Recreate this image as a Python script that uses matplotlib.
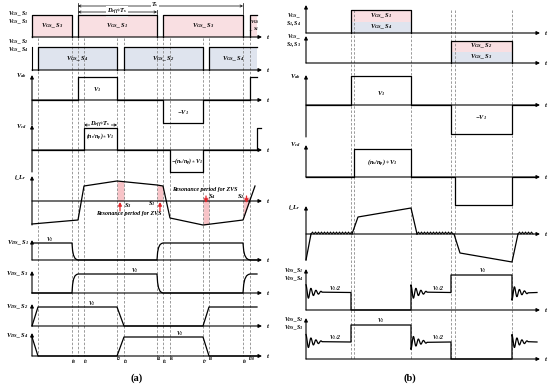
"""
Switching waveforms of the converter: (a) phase-shift operation, (b) burst operation.
"""

import numpy as np
import matplotlib.pyplot as plt

plt.rcParams['font.family'] = 'Liberation Serif'
plt.rcParams['font.style'] = 'italic'
plt.rcParams['font.weight'] = 'bold'
plt.rcParams['mathtext.fontset'] = 'custom'
plt.rcParams['mathtext.it'] = 'Liberation Serif:italic:bold'
plt.rcParams['mathtext.rm'] = 'Liberation Serif:bold'
plt.rcParams['mathtext.bf'] = 'Liberation Serif:bold'

PINK = '#f9dfe2'
BLUE = '#dfe4ee'
RED = '#e3262c'
SHADE = '#f6b9be'
DASH = '#8a8a8a'

# ---------------- panel (a) data, time counted from the vertical axis ----------------
a_marks = [6, 40, 46, 52, 85, 92, 125, 131, 138, 171, 177, 211, 218]
a_mark_names = ['', r'$t_0$', '', r'$t_1$', r'$t_2$', r'$t_3$', r'$t_4$', r'$t_5$',
                r'$t_6$', r'$t_7$', r'$t_8$', r'$t_9$', r'$t_{10}$']
a_gs13_on = [(0, 40), (46, 125), (131, 211), (218, 225)]
a_gs13_names = ['S_3', 'S_1', 'S_3', 'S_1']
a_gs24_on = [(6, 85), (92, 171), (177, 225)]
a_gs24_names = ['S_4', 'S_2', 'S_4']
a_vab_t = [0, 46, 46, 85, 85, 131, 131, 171, 171, 218, 218, 225]
a_vab_v = [0, 0, 1, 1, 0, 0, -1, -1, 0, 0, 1, 1]
a_vcd_t = [0, 52, 52, 85, 85, 138, 138, 171, 171, 225, 225, 229]
a_vcd_v = [0, 0, 1, 1, 0, 0, -1, -1, 0, 0, 1, 1]
a_ilr_t = [0, 46, 52, 85, 125, 131, 138, 171, 211, 223]
a_ilr_v = [-23, -19, 15, 20, 16, 15, -17, -24, -19, 15]
# resonance windows: start, end, direction, switch, arrow time
a_zvs = [(85, 92, 1, 'S_3', 88), (125, 131, 1, 'S_1', 128),
         (171, 177, -1, 'S_4', 174), (211, 218, -1, 'S_2', 214.5)]
# drain-source voltages: start level, then (edge start, edge end, new level)
a_vds1 = (1, [(40, 46, 0), (125, 131, 1), (211, 218, 0)])
a_vds3 = (0, [(40, 46, 1), (125, 131, 0), (211, 218, 1)])
a_vds2 = (0, [(0, 6, 1), (85, 92, 0), (171, 177, 1)])
a_vds4 = (1, [(0, 6, 0), (85, 92, 1), (171, 177, 0)])
# shape of a resonant edge (fraction of time, fraction of swing)
edge_ft = [0, 0.1, 0.25, 0.5, 0.75, 1]
edge_fv = [0, 0.45, 0.72, 0.9, 0.97, 1]

# ---------------- panel (b) data ----------------
b_marks = [45, 48, 105, 145, 149, 206]
b_gs14_on = (45, 105)
b_gs23_on = (145, 206)
b_vab_t = [0, 45, 45, 105, 105, 145, 145, 206, 206, 230]
b_vab_v = [0, 0, 1, 1, 0, 0, -1, -1, 0, 0]
b_vcd_t = [0, 48, 48, 105, 105, 149, 149, 206, 206, 230]
b_vcd_v = [0, 0, 1, 1, 0, 0, -1, -1, 0, 0]
b_ilr_ramps = [([0, 5], [-26, 0]),
               ([46, 52, 105, 111], [0, 17, 26, 0]),
               ([148, 154, 206, 212], [0, -19, -28, 0])]
b_ilr_ring = [(5, 46), (111, 148), (212, 228)]
b_vds14_t = [0, 45, 105, 145, 206]
b_vds14_lvl = [0.5, 0, 0.5, 1, 0.5]
b_vds23_t = [0, 45, 105, 145, 206]
b_vds23_lvl = [0.5, 1, 0.5, 0, 0.5]


def axis_h(ax, x0, y, tend):
    ax.annotate('', xy=(x0 + tend, y), xytext=(x0, y),
                arrowprops=dict(arrowstyle='-|>', lw=0.8, color='k', mutation_scale=5,
                                shrinkA=0, shrinkB=0))
    ax.text(x0 + tend + 4, y, r'$t$', fontsize=5, va='center', ha='left')


def axis_v(ax, x0, top, bot, arrow=True):
    if arrow:
        ax.annotate('', xy=(x0, top), xytext=(x0, bot),
                    arrowprops=dict(arrowstyle='-|>', lw=0.8, color='k', mutation_scale=5,
                                    shrinkA=0, shrinkB=0))
    else:
        ax.plot([x0, x0], [top, bot], color='k', lw=0.8)


def edges_curve(start, edges, tend, ft, fv):
    t, v = [0], [start]
    cur = start
    for ta, tb, new in edges:
        if ta > 0:
            t.append(ta)
            v.append(cur)
        for a, b in zip(ft, fv):
            t.append(ta + a * (tb - ta))
            v.append(cur + b * (new - cur))
        cur = new
    t.append(tend)
    v.append(cur)
    return np.array(t, float), np.array(v, float)


def ring_curve(times, levels, tend, ring_len=16, amp=0.22):
    t, v = [], []
    prev = 0
    for i, (ts, lv) in enumerate(zip(times, levels)):
        te = times[i + 1] if i + 1 < len(times) else tend
        if lv == 0.5:
            sign = 1 if lv >= prev else -1
            tt = np.linspace(0, ring_len, 60)
            wave = lv + sign * amp * np.exp(-tt / 8) * np.cos(2 * np.pi * tt / 5)
            t += list(ts + tt)
            v += list(wave)
            t.append(te)
            v.append(lv)
        else:
            t += [ts, te]
            v += [lv, lv]
        prev = lv
    return np.array(t), np.array(v)


def zigzag(t0, t1, period=3.0, amp=2.0):
    tt = np.arange(t0, t1, period / 2)
    vv = np.where(np.arange(len(tt)) % 2 == 0, 0, amp)
    return tt, vv


fig = plt.figure(figsize=(5.5, 3.88), dpi=100)
ax = fig.add_axes([0, 0, 1, 1])
ax.set_xlim(0, 550)
ax.set_ylim(388, 0)
ax.axis('off')

LW = 0.9
FS = 4.6
FSL = 4.2

# ======================= panel (a) =======================
x0 = 32
tend = 230

# dashed switching instants
for i, m in enumerate(a_marks):
    ax.plot([x0 + m, x0 + m], [38, 356], color=DASH, lw=0.6, ls=(0, (3, 2)), zorder=3)
    if a_mark_names[i]:
        ax.text(x0 + m + 2, 362 if i % 2 else 359, a_mark_names[i], fontsize=4.2,
                ha='center', va='center')

# gate signals S1/S3
base, amp = 37, 22
for (s, e), nm in zip(a_gs13_on, a_gs13_names):
    ax.fill_between([x0 + s, x0 + e], base, base - amp, color=PINK, lw=0, zorder=1)
    xs = [x0 + s, x0 + s, x0 + e, x0 + e] if e < 220 else [x0 + s, x0 + s, x0 + e]
    ys = [base, base - amp, base - amp, base] if e < 220 else [base, base - amp, base - amp]
    ax.plot(xs, ys, color='k', lw=LW, zorder=4)
    if e - s > 20:
        ax.text(x0 + (s + e) / 2, base - amp / 2, r'$V_{GS}$_ $%s$' % nm, fontsize=FS,
                ha='center', va='center', zorder=5)
    else:
        ax.text(x0 + (s + e) / 2 + 1, base - amp / 2, r'$V_{GS}$' + '\n' + r'_ $%s$' % nm,
                fontsize=3.6, ha='center', va='center', zorder=5, linespacing=0.9)
axis_h(ax, x0, base, tend)
ax.text(29, 14, r'$V_{GS}$_ $S_1$', fontsize=FSL, ha='right', va='center')
ax.text(29, 22, r'$V_{GS}$_ $S_3$', fontsize=FSL, ha='right', va='center')

# period annotations
for t in (46, 211):
    ax.plot([x0 + t, x0 + t], [3, 14], color='k', lw=0.5)
ax.plot([x0 + 125, x0 + 125], [9, 14], color='k', lw=0.5)
ax.annotate('', xy=(x0 + 46, 6), xytext=(x0 + 211, 6),
            arrowprops=dict(arrowstyle='<->', lw=0.5, mutation_scale=4, shrinkA=0, shrinkB=0))
ax.annotate('', xy=(x0 + 46, 12), xytext=(x0 + 125, 12),
            arrowprops=dict(arrowstyle='<->', lw=0.5, mutation_scale=4, shrinkA=0, shrinkB=0))
ax.text(x0 + 123, 5, r'$T_s$', fontsize=FS, ha='center', va='center',
        bbox=dict(fc='white', ec='none', pad=0.4))
ax.text(x0 + 85, 11.5, r'$D_{eff}$$\ast$$T_s$', fontsize=FS, ha='center', va='center',
        bbox=dict(fc='white', ec='none', pad=0.3))

# gate signals S2/S4
base, amp = 70, 23
axis_v(ax, x0, base - amp, base, arrow=False)
for (s, e), nm in zip(a_gs24_on, a_gs24_names):
    ax.fill_between([x0 + s, x0 + e], base, base - amp, color=BLUE, lw=0, zorder=1)
    xs = [x0 + s, x0 + s, x0 + e, x0 + e] if e < 220 else [x0 + s, x0 + s, x0 + e]
    ys = [base, base - amp, base - amp, base] if e < 220 else [base, base - amp, base - amp]
    ax.plot(xs, ys, color='k', lw=LW, zorder=4)
    ax.text(x0 + (s + e) / 2, base - amp / 2, r'$V_{GS}$_ $%s$' % nm, fontsize=FS,
            ha='center', va='center', zorder=5)
axis_h(ax, x0, base, tend)
ax.text(29, 42, r'$V_{GS}$_ $S_2$', fontsize=FSL, ha='right', va='center')
ax.text(29, 50, r'$V_{GS}$_ $S_4$', fontsize=FSL, ha='right', va='center')

# V_ab
base, amp = 100, 23
axis_v(ax, x0, 75, base + amp + 2)
ax.plot(x0 + np.array(a_vab_t), base - amp * np.array(a_vab_v), color='k', lw=LW, zorder=4)
axis_h(ax, x0, base, tend)
ax.text(27, 76, r'$V_{ab}$', fontsize=FS, ha='right', va='center')
ax.text(x0 + 65, 90, r'$V_1$', fontsize=FS, ha='center', va='center')
ax.text(x0 + 151, 113, r'$\mathrm{-}V_1$', fontsize=FS, ha='center', va='center')

# V_cd
base, amp = 150, 22
axis_v(ax, x0, 125, base + amp)
ax.plot(x0 + np.array(a_vcd_t), base - amp * np.array(a_vcd_v), color='k', lw=LW, zorder=4)
axis_h(ax, x0, base, tend)
ax.text(27, 127, r'$V_{cd}$', fontsize=FS, ha='right', va='center')
ax.text(x0 + 68.5, 137, r'$(n_s/n_p)\ast V_1$', fontsize=4.2, ha='center', va='center')
ax.text(x0 + 154.5, 162, r'$\mathrm{-}(n_s/n_p)\ast V_1$', fontsize=4.2, ha='center', va='center')
ax.annotate('', xy=(x0 + 52, 125), xytext=(x0 + 85, 125),
            arrowprops=dict(arrowstyle='<->', lw=0.5, mutation_scale=4, shrinkA=0, shrinkB=0))
ax.text(x0 + 68.5, 124.5, r'$D_{eff}$$\ast$$T_s$', fontsize=FS, ha='center', va='center',
        bbox=dict(fc='white', ec='none', pad=0.2))

# i_Lr
base = 201
axis_v(ax, x0, 176, base + 24)
ax.plot(x0 + np.array(a_ilr_t), base - np.array(a_ilr_v), color='k', lw=LW, zorder=4)
axis_h(ax, x0, base, tend)
ax.text(27, 178, r'$i\_L_r$', fontsize=FS, ha='right', va='center')
for s, e, d, nm, ta in a_zvs:
    ts = np.linspace(s, e, 20)
    cur = np.interp(ts, a_ilr_t, a_ilr_v)
    if d > 0:
        ax.fill_between(x0 + ts, base - cur, base, color=SHADE, alpha=0.85, lw=0, zorder=2)
        ax.annotate('', xy=(x0 + ta, base + 1), xytext=(x0 + ta, base + 10),
                    arrowprops=dict(arrowstyle='-|>', lw=0.9, color=RED, mutation_scale=5,
                                    shrinkA=0, shrinkB=0), zorder=6)
    else:
        ax.fill_between(x0 + ts, base - 4, base - cur, color=SHADE, alpha=0.85, lw=0, zorder=2)
        ax.annotate('', xy=(x0 + ta, base + 2), xytext=(x0 + ta, base - 5),
                    arrowprops=dict(arrowstyle='-|>', lw=0.9, color=RED, mutation_scale=5,
                                    shrinkA=0, shrinkB=0), zorder=6)
ax.text(x0 + 96, 206, r'$S_3$', fontsize=FS, ha='center', va='center')
ax.text(x0 + 120, 204, r'$S_1$', fontsize=FS, ha='center', va='center')
ax.text(x0 + 180, 197, r'$S_4$', fontsize=FS, ha='center', va='center')
ax.text(x0 + 209, 197, r'$S_2$', fontsize=FS, ha='center', va='center')
ax.text(x0 + 173, 190, 'Resonance period for ZVS', fontsize=4.3, ha='center', va='center')
ax.text(x0 + 97, 214, 'Resonance period for ZVS', fontsize=4.3, ha='center', va='center')

# drain-source voltages
a_vds_rows = [(a_vds1, 260, 17, 240, r'$V_{DS}$_ $S_1$', 18, 'curve'),
              (a_vds3, 293, 19, 271, r'$V_{DS}$_ $S_3$', 103, 'curve'),
              (a_vds2, 326, 19, 304, r'$V_{DS}$_ $S_2$', 60, 'line'),
              (a_vds4, 356, 19, 333, r'$V_{DS}$_ $S_4$', 148, 'line')]
for (start, edges), base, amp, top, lab, tlab, kind in a_vds_rows:
    if kind == 'curve':
        t, v = edges_curve(start, edges, 225, edge_ft, edge_fv)
    else:
        t, v = edges_curve(start, edges, 225, [0, 1], [0, 1])
    axis_v(ax, x0, top, base)
    ax.plot(x0 + t, base - amp * v, color='k', lw=LW, zorder=4)
    axis_h(ax, x0, base, tend)
    ax.text(29, top + 3, lab, fontsize=FS, ha='right', va='center')
    ax.text(x0 + tlab, base - amp - 3, r'$V_1$', fontsize=4.2, ha='center', va='center')

ax.text(137, 378, '(a)', fontsize=7.5, style='normal', weight='bold', ha='center', va='center')

# ======================= panel (b) =======================
x0 = 306
tend = 234

for m in b_marks:
    ax.plot([x0 + m, x0 + m], [10, 359], color=DASH, lw=0.6, ls=(0, (3, 2)), zorder=3)

# gate signals, split pink/blue pulse
for (s, e), base, amp, names, ly in [(b_gs14_on, 33, 23, ('S_1', 'S_4'), (16, 24)),
                                     (b_gs23_on, 63, 22, ('S_2', 'S_3'), (37, 45))]:
    axis_v(ax, x0, base - 28 if base == 33 else base - 27, base)
    ax.fill_between([x0 + s, x0 + e], base - amp / 2, base - amp, color=PINK, lw=0, zorder=1)
    ax.fill_between([x0 + s, x0 + e], base, base - amp / 2, color=BLUE, lw=0, zorder=1)
    ax.plot([x0 + s, x0 + s, x0 + e, x0 + e], [base, base - amp, base - amp, base],
            color='k', lw=LW, zorder=4)
    ax.text(x0 + (s + e) / 2, base - amp * 0.77, r'$V_{GS}$_ $%s$' % names[0], fontsize=FS,
            ha='center', va='center', zorder=5)
    ax.text(x0 + (s + e) / 2, base - amp * 0.27, r'$V_{GS}$_ $%s$' % names[1], fontsize=FS,
            ha='center', va='center', zorder=5)
    axis_h(ax, x0, base, tend)
    ax.text(301, ly[0], r'$V_{GS}$_', fontsize=FSL, ha='right', va='center')
    ax.text(301, ly[1], r'$%s,%s$' % names, fontsize=FSL, ha='right', va='center')

# V_ab
base, amp = 105, 29
axis_v(ax, x0, 75, base + amp + 3)
ax.plot(x0 + np.array(b_vab_t), base - amp * np.array(b_vab_v), color='k', lw=LW, zorder=4)
axis_h(ax, x0, base, tend)
ax.text(301, 77, r'$V_{ab}$', fontsize=FS, ha='right', va='center')
ax.text(x0 + 75, 94, r'$V_1$', fontsize=FS, ha='center', va='center')
ax.text(x0 + 175, 118, r'$\mathrm{-}V_1$', fontsize=FS, ha='center', va='center')

# V_cd
base, amp = 177, 28
axis_v(ax, x0, 145, base)
ax.plot(x0 + np.array(b_vcd_t), base - amp * np.array(b_vcd_v), color='k', lw=LW, zorder=4)
axis_h(ax, x0, base, tend)
ax.text(301, 145, r'$V_{cd}$', fontsize=FS, ha='right', va='center')
ax.text(x0 + 76.5, 163, r'$(n_s/n_p)\ast V_1$', fontsize=4.6, ha='center', va='center')

# i_Lr with ringing between the bursts
base = 234
axis_v(ax, x0, 206, base + 26)
for t, v in b_ilr_ramps:
    ax.plot(x0 + np.array(t), base - np.array(v), color='k', lw=LW, zorder=4)
for s, e in b_ilr_ring:
    t, v = zigzag(s, e)
    ax.plot(x0 + t, base - v, color='k', lw=0.7, zorder=4)
axis_h(ax, x0, base, tend)
ax.text(301, 208, r'$i\_L_r$', fontsize=FS, ha='right', va='center')

# drain-source voltages with ringing
for times, lvls, base, amp, labs, ly, half_t, one_t in [
        (b_vds14_t, b_vds14_lvl, 310, 35, ('S_1', 'S_4'), (271, 279), (29, 132), 177),
        (b_vds23_t, b_vds23_lvl, 359, 34, ('S_2', 'S_3'), (320, 328), (29, 132), 75)]:
    axis_v(ax, x0, base - 41, base)
    t, v = ring_curve(times, lvls, 231)
    ax.plot(x0 + t, base - amp * v, color='k', lw=LW, zorder=4)
    axis_h(ax, x0, base, tend)
    ax.text(303, ly[0], r'$V_{DS}$_$%s$' % labs[0], fontsize=FSL, ha='right', va='center')
    ax.text(303, ly[1], r'$V_{DS}$_$%s$' % labs[1], fontsize=FSL, ha='right', va='center')
    for ht in half_t:
        ax.text(x0 + ht, base - amp * 0.5 - 4, r'$V_1/2$', fontsize=4.2, ha='center', va='center')
    ax.text(x0 + one_t, base - amp - 4, r'$V_1$', fontsize=4.2, ha='center', va='center')

ax.text(410, 378, '(b)', fontsize=7.5, style='normal', weight='bold', ha='center', va='center')

fig.savefig('out.png', dpi=100)
